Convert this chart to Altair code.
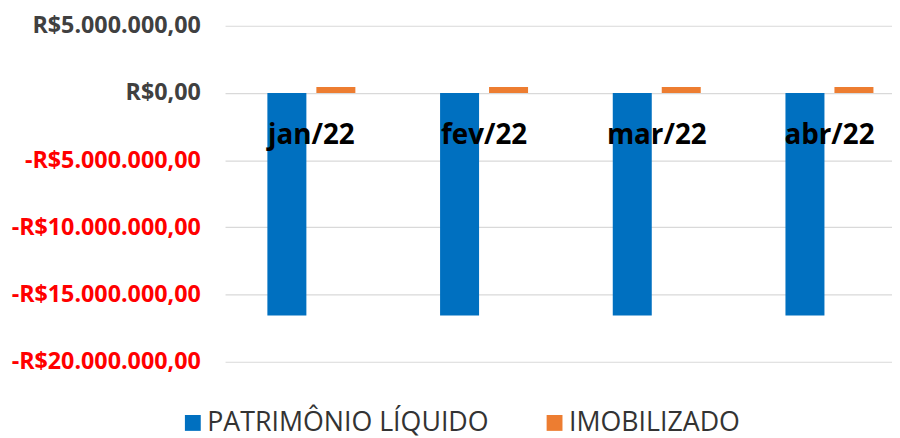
import altair as alt
import pandas as pd

# ---- data ----
months = ["jan/22", "fev/22", "mar/22", "abr/22"]
series = ["PATRIMÔNIO LÍQUIDO", "IMOBILIZADO"]
patrimonio_liquido = [-16560000, -16560000, -16560000, -16560000]
imobilizado = [450000, 450000, 450000, 450000]
tick_values = [5000000, 0, -5000000, -10000000, -15000000, -20000000]
tick_labels = ["R$5.000.000,00", "R$0,00", "-R$5.000.000,00",
               "-R$10.000.000,00", "-R$15.000.000,00", "-R$20.000.000,00"]
colors = ["#0070C0", "#ED7D31"]

rows = []
for i, m in enumerate(months):
    rows.append({"mes": m, "serie": series[0], "valor": patrimonio_liquido[i]})
    rows.append({"mes": m, "serie": series[1], "valor": imobilizado[i]})
df = pd.DataFrame(rows)
df_months = pd.DataFrame({"mes": months})

label_expr = ""
for v, t in zip(tick_values, tick_labels):
    label_expr += f"datum.value == {v} ? '{t}' : "
label_expr += "''"

x_scale = alt.Scale(range=[0, 697], paddingInner=0.4905, paddingOuter=0.2452)

bars = alt.Chart(df).mark_bar().encode(
    x=alt.X("mes:N", sort=months, scale=x_scale, axis=None),
    xOffset=alt.XOffset("serie:N", sort=series, scale=alt.Scale(paddingInner=0.204)),
    y=alt.Y(
        "valor:Q",
        scale=alt.Scale(domain=[-20000000, 5000000], nice=False, zero=True),
        axis=alt.Axis(
            values=tick_values,
            labelExpr=label_expr,
            labelFont="Open Sans",
            labelFontWeight="bold",
            labelFontSize=23.5,
            labelColor={"condition": {"test": "datum.value < 0", "value": "#ff0000"},
                        "value": "#404040"},
            ticks=False,
            tickSize=0,
            domain=False,
            labelPadding=25,
            labelLimit=400,
            gridColor="#d9d9d9",
            gridWidth=1.2,
            title=None,
        ),
    ),
    color=alt.Color(
        "serie:N",
        sort=series,
        scale=alt.Scale(domain=series, range=colors),
        legend=alt.Legend(
            orient="none",
            legendX=-46,
            legendY=387,
            direction="horizontal",
            title=None,
            labelFont="Open Sans",
            labelFontSize=27,
            labelColor="#333333",
            labelLimit=500,
            symbolType="square",
            symbolSize=256,
            symbolStrokeWidth=0,
            labelOffset=1,
            columnPadding=52,
            padding=0,
        ),
    ),
)

labels = alt.Chart(df_months).mark_text(
    font="Open Sans",
    fontWeight="bold",
    fontSize=28,
    color="#000000",
    baseline="alphabetic",
    align="center",
    dy=51,
).encode(
    x=alt.X("mes:N", sort=months, scale=x_scale, axis=None),
    y=alt.datum(0),
    text="mes:N",
)

chart = alt.layer(bars, labels).properties(
    width=673,
    height=339,
    autosize=alt.AutoSizeParams(type="none"),
    padding={"left": 219, "top": 16, "right": 0, "bottom": 75},
).configure_view(stroke=None)

chart.save("out.html", embed_options={"renderer": "svg", "actions": False})
